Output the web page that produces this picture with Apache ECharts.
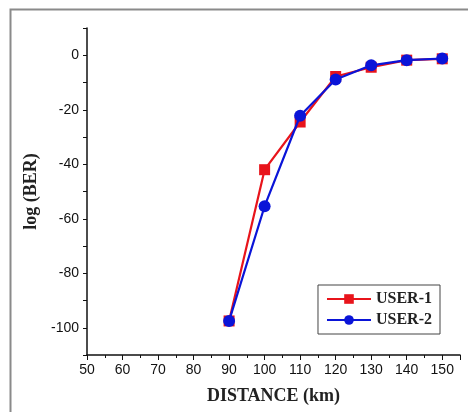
<!DOCTYPE html>
<html>
<head>
<meta charset="utf-8">
<script src="https://cdn.jsdelivr.net/npm/echarts@6/dist/echarts.min.js"></script>
<style>
  html, body { margin: 0; padding: 0; background: #fff; }
</style>
</head>
<body>
<div id="chart" style="width:468px;height:412px"></div>
<script>
// distance (km)
const distance = [90, 100, 110, 120, 130, 140, 150]
// log(BER) per user
const user1 = [-97.5, -42, -24.5, -7.8, -4.4, -1.8, -1.3]
const user2 = [-97.5, -55.4, -22.2, -8.9, -3.7, -1.8, -1.2]
const seriesNames = ['USER-1', 'USER-2']

const chart = echarts.init(document.getElementById('chart'))

const labelFont = {
  color: '#111',
  fontFamily: 'Liberation Sans',
  fontSize: 14
}
const nameFont = {
  fontFamily: 'Liberation Serif',
  fontWeight: 'bold',
  fontSize: 18,
  color: '#222'
}

const option = {
  animation: false,
  backgroundColor: '#fff',
  // 外框
  graphic: [
    {
      type: 'rect',
      shape: { x: 10.5, y: 9.5, width: 480, height: 420 },
      style: { fill: 'none', stroke: '#8a8a8a', lineWidth: 2 }
    }
  ],
  grid: {
    left: 87,
    right: 8,
    top: 28,
    bottom: 57
  },
  legend: {
    orient: 'vertical',
    right: 28,
    top: 285,
    itemWidth: 44,
    itemHeight: 12,
    itemGap: 5,
    padding: [6, 8, 6, 8],
    borderColor: '#444',
    borderWidth: 1,
    textStyle: {
      fontFamily: 'Liberation Serif',
      fontWeight: 'bold',
      fontSize: 16,
      color: '#222'
    },
    data: seriesNames
  },
  xAxis: {
    type: 'value',
    min: 50,
    max: 155,
    interval: 10,
    name: 'DISTANCE (km)',
    nameLocation: 'middle',
    nameGap: 32,
    nameTextStyle: nameFont,
    axisLine: { onZero: false, lineStyle: { color: '#111', width: 1.5 } },
    axisTick: { length: 5, lineStyle: { color: '#111' } },
    minorTick: { show: true, splitNumber: 2, length: 3, lineStyle: { color: '#111' } },
    splitLine: { show: false },
    axisLabel: { ...labelFont, margin: 8, showMaxLabel: false }
  },
  yAxis: {
    type: 'value',
    min: -110,
    max: 10,
    interval: 10,
    name: 'log (BER)',
    nameLocation: 'middle',
    nameGap: 44,
    nameTextStyle: nameFont,
    axisLine: { onZero: false, lineStyle: { color: '#111', width: 1.5 } },
    axisTick: { length: 4, lineStyle: { color: '#111' } },
    splitLine: { show: false },
    axisLabel: {
      ...labelFont,
      margin: 8,
      formatter: v => (v % 20 === 0 ? String(v) : '')
    }
  },
  series: [
    {
      name: seriesNames[0],
      type: 'line',
      data: distance.map((d, i) => [d, user1[i]]),
      symbol: 'rect',
      symbolSize: 11,
      color: '#e8141b',
      lineStyle: { width: 2.2 },
      z: 2
    },
    {
      name: seriesNames[1],
      type: 'line',
      data: distance.map((d, i) => [d, user2[i]]),
      symbol: 'circle',
      symbolSize: 12,
      color: '#0a14d8',
      lineStyle: { width: 2.2 },
      z: 3
    }
  ]
}

chart.setOption(option)
</script>
</body>
</html>
